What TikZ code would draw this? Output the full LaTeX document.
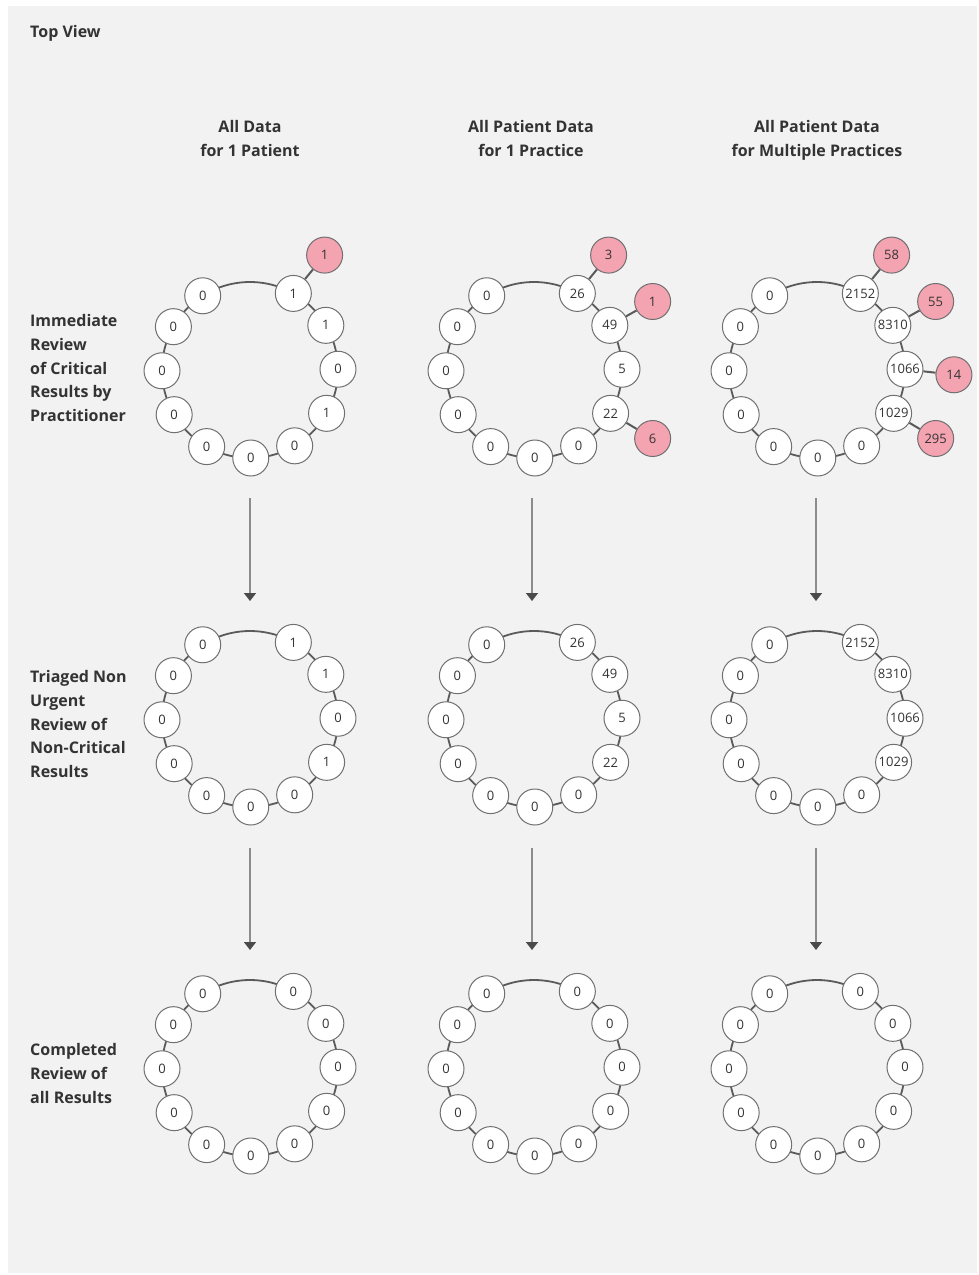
\documentclass[tikz,border=0pt]{standalone}
\usepackage{fontspec}
\setmainfont{Open Sans}
\newfontfamily\numfont{Open Sans}
\usetikzlibrary{arrows.meta}
\definecolor{bggray}{HTML}{F2F2F2}
\definecolor{linegray}{HTML}{5A5A5A}
\definecolor{nodegray}{HTML}{707070}
\definecolor{arrowline}{HTML}{8C8C8C}
\definecolor{arrowhead}{HTML}{4A4A4A}
\definecolor{critpink}{HTML}{F4A3B0}
\definecolor{textgray}{HTML}{333333}
\tikzset{
    ringnode/.style={circle, draw=nodegray, fill=white, line width=1pt, minimum size=36pt, inner sep=0pt,
        font=\numfont\fontsize{13}{15}\selectfont, text=textgray},
    critnode/.style={ringnode, fill=critpink},
    ringline/.style={draw=linegray, line width=1.8pt},
    spoke/.style={draw=linegray, line width=2pt},
    flow/.style={draw=arrowline, line width=1.5pt, -{Triangle[width=12pt,length=8pt,color=arrowhead]}},
    rowlabel/.style={anchor=north west, align=left, inner sep=0pt, text=textgray,
        font=\bfseries\fontsize{16}{23.7}\selectfont},
    colhead/.style={anchor=north, align=center, inner sep=0pt, text=textgray,
        font=\bfseries\fontsize{16}{23.7}\selectfont},
}
\begin{document}
\begin{tikzpicture}[x=1pt, y=-1pt]
        \useasboundingbox (0,0) rectangle (979,1275);
        \fill[white] (0,0) rectangle (979,1275);
        \fill[bggray] (8,6) rectangle (977,1273);

        % Titles
        \node[anchor=base west, inner sep=0pt, text=textgray, font=\bfseries\fontsize{16}{20}\selectfont] (title) at (30,37) {Top View};
        \node[colhead] (head-a) at (250,120.5) {All Data\\for 1 Patient};
        \node[colhead] (head-b) at (531,120.5) {All Patient Data\\for 1 Practice};
        \node[colhead] (head-c) at (817,120.5) {All Patient Data\\for Multiple Practices};

        % Row labels
        \node[rowlabel] (lab1) at (30,314.5) {Immediate\\Review\\of Critical\\Results by\\Practitioner};
        \node[rowlabel] (lab2) at (30,670.5) {Triaged Non\\Urgent\\Review of\\Non-Critical\\Results};
        \node[rowlabel] (lab3) at (30,1043.5) {Completed\\Review of\\all Results};

        % Rings
        \foreach \col/\cx/\vals in {a/250/{1,1,0,1}, b/534/{26,49,5,22}, c/817/{2152,8310,1066,1029}} {
            \foreach \rw/\cy in {1/370, 2/719, 3/1068} {
                \coordinate (\col\rw) at (\cx,\cy);
                \draw[ringline] (\col\rw) circle (88pt);
                \ifnum\rw=3 \def\shown{0,0,0,0}\else\let\shown\vals\fi
                \foreach \v [count=\i] in \shown
                    \node[ringnode] (\col\rw-\i) at ([shift={(90.5-30*\i:88pt)}]\col\rw) {\v};
                \foreach \i in {5,...,11} {
                    \pgfmathsetmacro\ang{90.5-30*\i+2*(\i==11)}
                    \node[ringnode] (\col\rw-\i) at ([shift={(\ang:88pt)}]\col\rw) {0};
                }
            }
        }

        % Critical results
        \foreach \col/\i/\ang/\v in {a/1/57/1, b/1/57/3, b/2/30/1, b/4/-30/6,
                c/1/57/58, c/2/30/55, c/3/-2/14, c/4/-30/295} {
            \node[critnode] (\col-crit\i) at ([shift={(\ang:137pt)}]\col1) {\v};
            \draw[spoke] (\col1-\i) -- (\col-crit\i);
        }

        % Arrows
        \foreach \col/\ax in {a/250, b/532, c/816} {
            \coordinate (\col-top1) at (\ax,498);
            \coordinate (\col-tip1) at (\ax,601);
            \coordinate (\col-top2) at (\ax,848);
            \coordinate (\col-tip2) at (\ax,950);
            \draw[flow] (\col-top1) -- (\col-tip1);
            \draw[flow] (\col-top2) -- (\col-tip2);
        }
\end{tikzpicture}
\end{document}
